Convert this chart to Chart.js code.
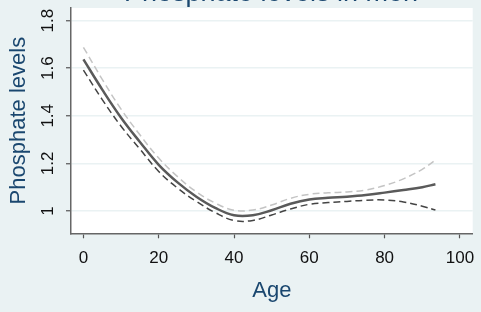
<!DOCTYPE html>
<html>
<head>
<meta charset="utf-8">
<script src="https://cdn.jsdelivr.net/npm/chart.js@4/dist/chart.umd.min.js"></script>
<style>
    html, body { margin: 0; padding: 0; background: #eaf2f3; }
    #wrap { width: 481px; height: 312px; }
</style>
</head>
<body>
<div id="wrap"><canvas id="grafico"></canvas></div>
<script>
// valores
const idades = [0, 5, 10, 15, 20, 25, 30, 35, 40, 45, 50, 55, 60, 65, 70, 75, 80, 85, 90, 93.5];
const ajuste = [1.637, 1.51, 1.392, 1.29, 1.194, 1.12, 1.06, 1.013, 0.982, 0.982, 1.003, 1.03, 1.048, 1.055, 1.06, 1.067, 1.077, 1.088, 1.10, 1.112];
const superior = [1.688, 1.553, 1.428, 1.32, 1.222, 1.144, 1.08, 1.033, 1.003, 1.004, 1.025, 1.053, 1.07, 1.076, 1.08, 1.088, 1.107, 1.135, 1.175, 1.214];
const inferior = [1.592, 1.468, 1.356, 1.26, 1.166, 1.096, 1.04, 0.993, 0.96, 0.96, 0.983, 1.008, 1.028, 1.035, 1.04, 1.045, 1.046, 1.038, 1.02, 1.004];
const ticksX = [0, 20, 40, 60, 80, 100];
const ticksY = [1, 1.2, 1.4, 1.6, 1.8];

const azul = '#1a476f';
const fonte = '"Liberation Sans", Arial, sans-serif';

function pontos(valores) {
    return idades.map((x, i) => ({ x: x, y: valores[i] }));
}

const fundo = {
    id: 'fundo',
    beforeDraw(chart) {
        const { ctx, chartArea: a } = chart;
        ctx.save();
        ctx.fillStyle = '#eaf2f3';
        ctx.fillRect(0, 0, chart.width, chart.height);
        ctx.fillStyle = '#ffffff';
        ctx.fillRect(a.left, a.top, a.right - a.left, a.bottom - a.top);
        ctx.restore();
    },
    afterDraw(chart) {
        // titulo cortado no topo
        const ctx = chart.ctx;
        ctx.save();
        ctx.fillStyle = azul;
        ctx.font = '27px ' + fonte;
        ctx.textAlign = 'center';
        ctx.textBaseline = 'alphabetic';
        ctx.fillText('Phosphate levels in men', 271, 0.5);
        ctx.restore();
    }
};

new Chart(document.getElementById('grafico'), {
    type: 'line',
    data: {
        datasets: [
            {
                label: 'ajuste',
                data: pontos(ajuste),
                borderColor: '#5a5a5a',
                borderWidth: 2.5,
                pointRadius: 0,
                tension: 0.4,
                order: 0
            },
            {
                label: 'superior',
                data: pontos(superior),
                borderColor: '#c4c4c4',
                borderWidth: 1.5,
                borderDash: [7, 4],
                pointRadius: 0,
                tension: 0.4,
                order: 1
            },
            {
                label: 'inferior',
                data: pontos(inferior),
                borderColor: '#444444',
                borderWidth: 1.5,
                borderDash: [7, 4],
                pointRadius: 0,
                tension: 0.4,
                order: 1
            }
        ]
    },
    options: {
        responsive: true,
        maintainAspectRatio: false,
        animation: false,
        layout: { padding: { left: 0, right: 8.3, top: 8, bottom: 0 } },
        plugins: {
            legend: { display: false },
            tooltip: { enabled: false }
        },
        scales: {
            x: {
                type: 'linear',
                min: -3.3,
                max: 103.4,
                afterBuildTicks: (s) => { s.ticks = ticksX.map(v => ({ value: v })); },
                afterFit: (s) => { s.height = 312 - 8 - 225.3; s.paddingLeft = 0; s.paddingRight = 0; },
                grid: { display: true, drawOnChartArea: false, tickColor: '#555', tickLength: 5, tickWidth: 1.2 },
                border: { color: '#666', width: 1.5 },
                ticks: { color: '#111', font: { family: fonte, size: 17 }, padding: 9.5, maxRotation: 0 },
                title: { display: true, text: 'Age', color: azul, font: { family: fonte, size: 22 }, padding: { top: 4, bottom: 8 } }
            },
            y: {
                min: 0.906,
                max: 1.853,
                afterBuildTicks: (s) => { s.ticks = ticksY.map(v => ({ value: v })); },
                afterFit: (s) => { s.width = 71; s.paddingTop = 0; s.paddingBottom = 0; },
                grid: { color: '#eaf2f3', lineWidth: 1.5, tickColor: '#555', tickLength: 5, tickWidth: 1.2 },
                border: { color: '#666', width: 1.5 },
                ticks: {
                    color: '#111',
                    font: { family: fonte, size: 17 },
                    minRotation: 90,
                    maxRotation: 90,
                    crossAlign: 'center',
                    padding: 6,
                    callback: (v) => String(Math.round(v * 10) / 10)
                },
                title: { display: true, text: 'Phosphate levels', color: azul, font: { family: fonte, size: 22 }, padding: { top: 6, bottom: 4 } }
            }
        }
    },
    plugins: [fundo]
});
</script>
</body>
</html>
